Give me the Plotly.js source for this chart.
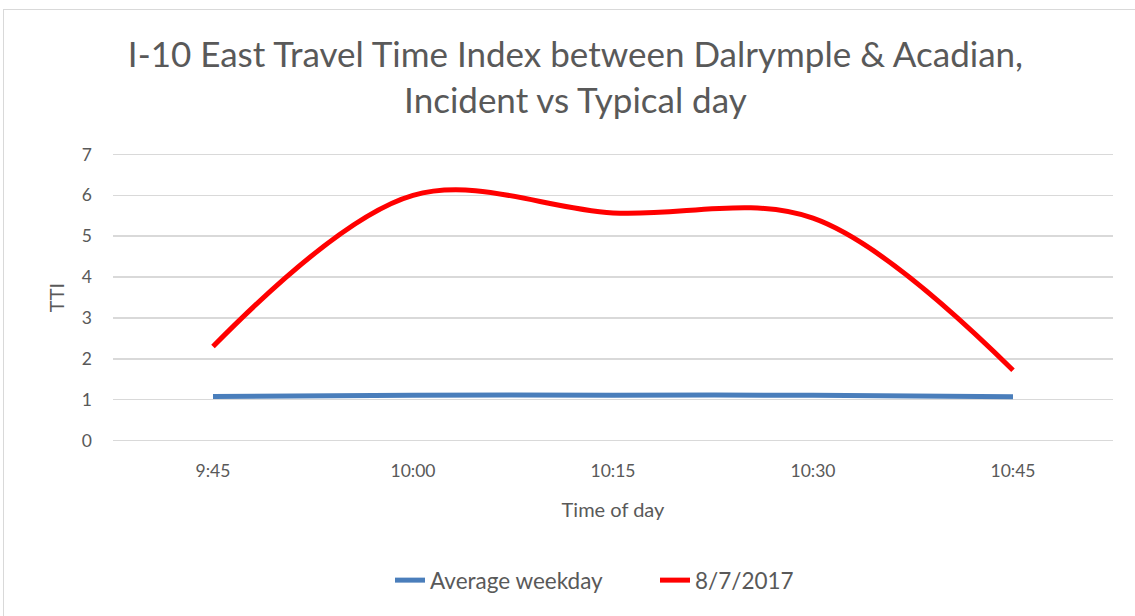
<!DOCTYPE html>
<html>
<head>
<meta charset="utf-8">
<script src="https://cdn.plot.ly/plotly-3.0.1.min.js"></script>
<style>
  html, body { margin: 0; padding: 0; background: #fff; overflow: hidden; }
  #chart { width: 1135px; height: 616px; }
  #frame { position: absolute; left: 3px; top: 9px; width: 1160px; height: 700px;
           border: 1px solid #d9d9d9; pointer-events: none; }
</style>
</head>
<body>
<div id="chart"></div>
<div id="frame"></div>
<script>
const categories = ["9:45", "10:00", "10:15", "10:30", "10:45"];
const averageWeekday = [1.08, 1.11, 1.11, 1.11, 1.07];
const incidentDay = [2.3, 6.0, 5.57, 5.44, 1.72];
const seriesNames = ["Average weekday", "8/7/2017"];
const yTicks = [0, 1, 2, 3, 4, 5, 6, 7];

const FONT = "Lato, 'Open Sans', sans-serif";
const TXT = "#595959";

const traces = [
  {
    x: categories, y: averageWeekday, name: seriesNames[0], type: "scatter", mode: "lines",
    line: { color: "#4A7EBB", width: 5, shape: "spline", smoothing: 1 }
  },
  {
    x: categories, y: incidentDay, name: seriesNames[1], type: "scatter", mode: "lines",
    line: { color: "#FF0000", width: 5, shape: "spline", smoothing: 1 }
  }
];

const layout = {
  width: 1135, height: 616,
  paper_bgcolor: "#ffffff", plot_bgcolor: "#ffffff",
  margin: { l: 113, r: 22, t: 151.5, b: 173 },
  font: { family: FONT, color: TXT, size: 18 },
  title: {
    text: "I-10 East Travel Time Index between Dalrymple & Acadian,<br>Incident vs Typical day",
    font: { family: FONT, size: 35, color: TXT },
    x: 0.507, xref: "container", xanchor: "center",
    y: 1 - 67 / 616, yref: "container", yanchor: "top"
  },
  xaxis: {
    type: "category", range: [-0.5, 4.5],
    showgrid: false, zeroline: false, showline: false, ticks: "",
    tickfont: { family: FONT, size: 17.5, color: TXT },
    ticklabelstandoff: 15,
    title: { text: "Time of day", font: { family: FONT, size: 20, color: TXT }, standoff: 23 },
    fixedrange: true
  },
  yaxis: {
    range: [-0.06, 7.06], tickvals: yTicks, ticktext: yTicks.map(String),
    showgrid: true, gridcolor: "#d9d9d9", gridwidth: 1.5,
    zeroline: false, showline: false, ticks: "",
    tickfont: { family: FONT, size: 17.5, color: TXT },
    ticklabelstandoff: 20,
    title: { text: "TTI", font: { family: FONT, size: 20, color: TXT }, standoff: 11 },
    fixedrange: true
  },
  showlegend: true,
  legend: {
    orientation: "h", x: 390 / 1135, xanchor: "left", xref: "container",
    y: 1 - 559 / 616, yref: "container", yanchor: "top",
    font: { family: FONT, size: 22.5, color: TXT },
    itemwidth: 30, tracegroupgap: 0, bgcolor: "rgba(0,0,0,0)",
    entrywidth: 220, entrywidthmode: "pixels"
  }
};

Plotly.newPlot("chart", traces, layout, { displayModeBar: false, staticPlot: true });
</script>
</body>
</html>
